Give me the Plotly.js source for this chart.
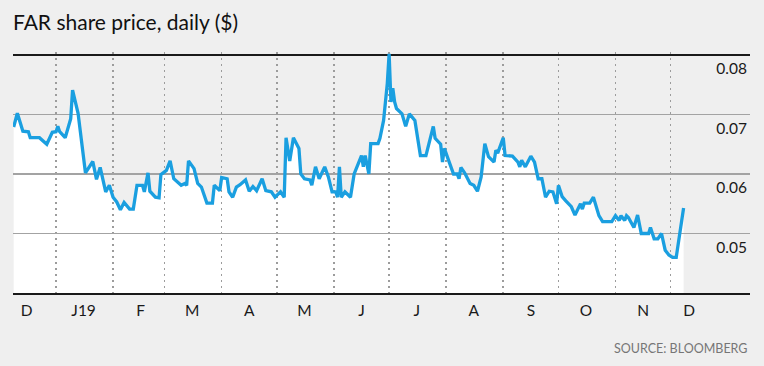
<!DOCTYPE html>
<html>
<head>
<meta charset="utf-8">
<script src="https://cdn.plot.ly/plotly-3.0.1.min.js"></script>
<style>
  html, body { margin: 0; padding: 0; background: #efefef; }
  #chart { width: 764px; height: 366px; }
</style>
</head>
<body>
<div id="chart"></div>
<script>
// ---- data ----
const dates = [
  "2018-12-09","2018-12-11","2018-12-14","2018-12-17","2018-12-18","2018-12-23","2018-12-27","2018-12-30",
  "2019-01-01","2019-01-02","2019-01-03","2019-01-06","2019-01-09","2019-01-10","2019-01-13","2019-01-17",
  "2019-01-21","2019-01-23","2019-01-25","2019-01-28","2019-01-30",
  "2019-02-01","2019-02-03","2019-02-05","2019-02-07","2019-02-10","2019-02-12","2019-02-14","2019-02-17",
  "2019-02-18","2019-02-20","2019-02-21","2019-02-24","2019-02-26","2019-02-27",
  "2019-03-02","2019-03-04","2019-03-06","2019-03-10","2019-03-12","2019-03-13","2019-03-14","2019-03-17",
  "2019-03-19","2019-03-21","2019-03-24","2019-03-27","2019-03-28","2019-03-31",
  "2019-04-01","2019-04-04","2019-04-05","2019-04-07","2019-04-09","2019-04-11","2019-04-14","2019-04-16",
  "2019-04-18","2019-04-20","2019-04-23","2019-04-25","2019-04-28","2019-04-30",
  "2019-05-03","2019-05-05","2019-05-06","2019-05-08","2019-05-10","2019-05-13","2019-05-14","2019-05-16",
  "2019-05-19","2019-05-20","2019-05-22","2019-05-24","2019-05-27","2019-05-29","2019-05-31",
  "2019-06-02","2019-06-03","2019-06-04","2019-06-05","2019-06-07","2019-06-10","2019-06-12","2019-06-16",
  "2019-06-17","2019-06-18","2019-06-20","2019-06-21","2019-06-25","2019-06-26","2019-06-28","2019-06-30",
  "2019-07-01","2019-07-02","2019-07-03","2019-07-04","2019-07-05","2019-07-08","2019-07-10","2019-07-12",
  "2019-07-15","2019-07-18","2019-07-21","2019-07-25","2019-07-26","2019-07-29","2019-07-30","2019-07-31",
  "2019-08-03","2019-08-05","2019-08-07","2019-08-08","2019-08-09","2019-08-11","2019-08-14","2019-08-16",
  "2019-08-18","2019-08-20","2019-08-22","2019-08-24","2019-08-27","2019-08-28","2019-08-29",
  "2019-09-01","2019-09-02","2019-09-06","2019-09-09","2019-09-10","2019-09-11","2019-09-13","2019-09-16",
  "2019-09-18","2019-09-20","2019-09-22","2019-09-24","2019-09-26","2019-09-28","2019-09-30",
  "2019-10-01","2019-10-03","2019-10-05","2019-10-08","2019-10-10","2019-10-13","2019-10-14","2019-10-15",
  "2019-10-18","2019-10-20","2019-10-23","2019-10-25","2019-10-30",
  "2019-11-01","2019-11-03","2019-11-04","2019-11-06","2019-11-07","2019-11-08","2019-11-11","2019-11-13",
  "2019-11-15","2019-11-19","2019-11-20","2019-11-22","2019-11-24","2019-11-26","2019-11-28","2019-11-30",
  "2019-12-02","2019-12-04","2019-12-06","2019-12-08"
];
const prices = [
  0.0679,0.0702,0.0672,0.0671,0.0661,0.0661,0.0650,0.0670,
  0.0671,0.0680,0.0671,0.0661,0.0693,0.0741,0.0702,0.0602,
  0.0621,0.0591,0.0611,0.0570,0.0581,
  0.0561,0.0553,0.0540,0.0552,0.0541,0.0541,0.0581,0.0581,
  0.0570,0.0602,0.0571,0.0561,0.0560,0.0599,
  0.0606,0.0622,0.0592,0.0581,0.0584,0.0581,0.0622,0.0609,
  0.0584,0.0578,0.0551,0.0551,0.0581,0.0572,
  0.0594,0.0592,0.0570,0.0561,0.0578,0.0582,0.0590,0.0571,
  0.0579,0.0572,0.0592,0.0572,0.0570,0.0561,
  0.0570,0.0561,0.0661,0.0622,0.0661,0.0643,0.0600,0.0592,
  0.0590,0.0581,0.0612,0.0592,0.0612,0.0595,0.0570,
  0.0570,0.0561,0.0612,0.0561,0.0570,0.0561,0.0600,0.0631,
  0.0612,0.0631,0.0600,0.0651,0.0651,0.0660,0.0690,0.0752,
  0.0802,0.0721,0.0744,0.0721,0.0710,0.0701,0.0680,0.0701,
  0.0690,0.0631,0.0631,0.0680,0.0660,0.0650,0.0620,0.0643,
  0.0617,0.0600,0.0600,0.0592,0.0611,0.0602,0.0584,0.0581,
  0.0571,0.0595,0.0651,0.0629,0.0620,0.0640,0.0635,
  0.0661,0.0631,0.0630,0.0620,0.0612,0.0623,0.0612,0.0630,
  0.0620,0.0592,0.0592,0.0561,0.0571,0.0570,0.0550,
  0.0581,0.0562,0.0555,0.0545,0.0531,0.0550,0.0541,0.0551,
  0.0551,0.0561,0.0530,0.0520,0.0520,
  0.0530,0.0522,0.0530,0.0522,0.0530,0.0527,0.0510,0.0531,
  0.0500,0.0500,0.0510,0.0491,0.0491,0.0500,0.0472,0.0464,
  0.0460,0.0460,0.0505,0.0543
];
const monthStarts = ["2019-01-01","2019-02-01","2019-03-01","2019-04-01","2019-05-01","2019-06-01",
  "2019-07-01","2019-08-01","2019-09-01","2019-10-01","2019-11-01","2019-12-01"];
const monthLabelDates = ["2018-12-16","2019-01-16","2019-02-16","2019-03-16","2019-04-16","2019-05-16",
  "2019-06-16","2019-07-16","2019-08-16","2019-09-16","2019-10-16","2019-11-16","2019-12-11"];
const monthLabels = ["D","J19","F","M","A","M","J","J","A","S","O","N","D"];
const yTickValues = [0.05, 0.06, 0.07, 0.08];
const yTickLabels = ["0.05", "0.06", "0.07", "0.08"];
const titleText = "FAR share price, daily ($)";
const sourceText = "SOURCE: BLOOMBERG";

// ---- chart ----
const FONT = "Lato, 'Noto Sans', sans-serif";
const LINE = "#1a9fe0";
const xRange = ["2018-12-08 15:20", "2020-01-13 02:00"];
const yRange = [0.04, 0.0805];

const traces = [
  { // white area under the line (bottom subplot)
    x: dates, y: prices, type: "scatter", mode: "lines",
    line: { width: 0, color: "rgba(0,0,0,0)" },
    fill: "tozeroy", fillcolor: "#ffffff",
    xaxis: "x", yaxis: "y", hoverinfo: "skip", showlegend: false
  },
  { // the price line (top subplot, above the grid)
    x: dates, y: prices, type: "scatter", mode: "lines",
    line: { width: 3.3, color: LINE, shape: "linear" },
    xaxis: "x2", yaxis: "y2", showlegend: false
  }
];

const layout = {
  width: 764, height: 366,
  margin: { l: 13, r: 14, t: 52, b: 73 },
  paper_bgcolor: "#efefef",
  plot_bgcolor: "rgba(0,0,0,0)",
  font: { family: FONT, color: "#1a1a1a", size: 15 },
  showlegend: false,
  title: {
    text: titleText,
    font: { family: FONT, size: 21, color: "#111" },
    x: 13 / 764, xref: "container", xanchor: "left",
    y: 1 - 23 / 366, yref: "container", yanchor: "middle"
  },
  xaxis: {
    type: "date", range: xRange, domain: [0, 1], anchor: "y",
    tickmode: "array", tickvals: monthLabelDates, ticktext: monthLabels,
    ticks: "", showgrid: false, zeroline: false, showline: false,
    ticklabelstandoff: 6,
    tickfont: { family: FONT, size: 15.5, color: "#1a1a1a" }
  },
  yaxis: {
    range: yRange, domain: [0, 1], anchor: "x",
    visible: false, showgrid: false, zeroline: false
  },
  xaxis2: {
    type: "date", range: xRange, domain: [0, 1], anchor: "y2",
    tickmode: "array", tickvals: monthStarts, showticklabels: false, ticks: "",
    showgrid: true, gridcolor: "#9c9c9c", gridwidth: 1.5, griddash: "1.5px,4.5px",
    showline: true, linecolor: "#1a1a1a", linewidth: 2, zeroline: false
  },
  yaxis2: {
    range: yRange, domain: [0, 1], anchor: "x2", side: "right",
    tickmode: "array", tickvals: yTickValues, ticktext: yTickLabels,
    ticks: "", showgrid: true, gridcolor: "#a3a3a3", gridwidth: 1.5,
    zeroline: false, showline: false,
    ticklabelposition: "inside bottom",
    ticklabelshift: 3,
    tickfont: { family: FONT, size: 15.5, color: "#1a1a1a" }
  },
  shapes: [
    { type: "line", xref: "x2", yref: "y2", x0: xRange[0], x1: xRange[1], y0: 0.08, y1: 0.08,
      line: { color: "#1a1a1a", width: 2 }, layer: "between" }
  ],
  annotations: [
    { text: sourceText, xref: "paper", yref: "paper", x: 1, y: (293 - 348) / 241,
      xanchor: "right", yanchor: "middle", showarrow: false,
      font: { family: FONT, size: 12.5, color: "#767676" } }
  ]
};

Plotly.newPlot("chart", traces, layout, { displayModeBar: false, staticPlot: true });
</script>
</body>
</html>
